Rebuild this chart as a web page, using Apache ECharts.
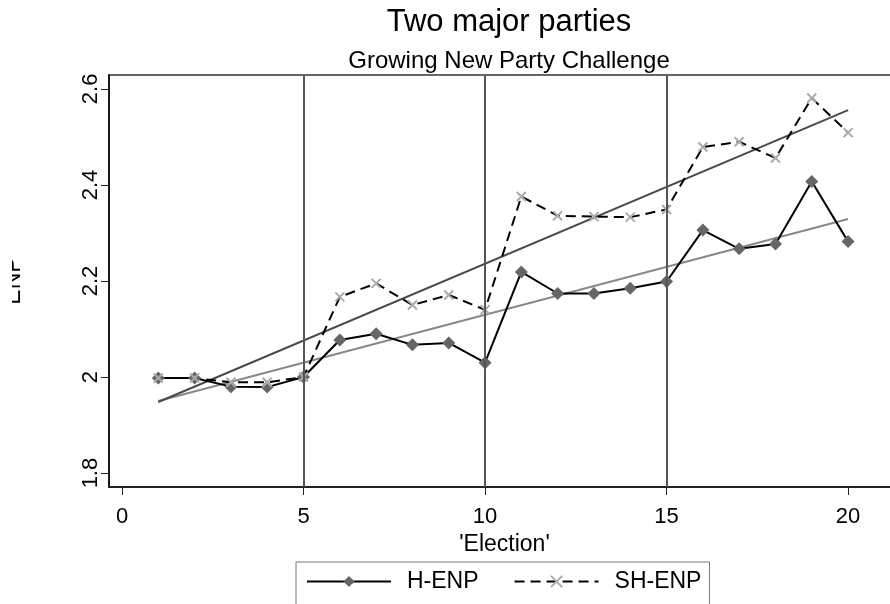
<!DOCTYPE html>
<html>
<head>
<meta charset="utf-8">
<script src="https://cdn.jsdelivr.net/npm/echarts@6/dist/echarts.min.js"></script>
<style>
html,body{margin:0;padding:0;background:#fff;}
#chart{width:890px;height:604px;}
</style>
</head>
<body>
<div id="chart"></div>
<script>
// ---- data ----
const elections = [1,2,3,4,5,6,7,8,9,10,11,12,13,14,15,16,17,18,19,20];
const hEnp  = [1.998,1.998,1.980,1.979,2.000,2.077,2.090,2.067,2.071,2.030,2.219,2.174,2.174,2.185,2.199,2.306,2.267,2.277,2.407,2.282];
const shEnp = [1.998,1.998,1.989,1.989,2.000,2.167,2.195,2.150,2.171,2.140,2.376,2.336,2.334,2.333,2.349,2.479,2.490,2.456,2.581,2.509];
// fitted trend lines (end points)
const hFitX  = [1, 20];
const hFitY  = [1.950, 2.329];
const shFitX = [1, 20];
const shFitY = [1.948, 2.556];
const refLines = [5, 10, 15];
const xTicks = [0, 5, 10, 15, 20];
const yTicks = [1.8, 2, 2.2, 2.4, 2.6];
const seriesNames = ['H-ENP', 'SH-ENP'];
const titleText = 'Two major parties';
const subtitleText = 'Growing New Party Challenge';
const xName = "'Election'";
const yName = 'ENP';

const FONT = "'Liberation Sans', Arial, Helvetica, sans-serif";
const pairs = (xs, ys) => xs.map((x, i) => [x, ys[i]]);
const crossPath = 'path://M0,0L10,10M10,0L0,10';

const chart = echarts.init(document.getElementById('chart'), null, {renderer: 'canvas'});
chart.setOption({
  animation: false,
  backgroundColor: '#fff',
  textStyle: {fontFamily: FONT},
  title: {
    text: titleText,
    subtext: subtitleText,
    left: 504,
    textAlign: 'center',
    top: 2,
    itemGap: 11,
    textStyle: {fontFamily: FONT, fontSize: 31, fontWeight: 'normal', color: '#000'},
    subtextStyle: {fontFamily: FONT, fontSize: 24, color: '#000'}
  },
  grid: {
    left: 109, right: -10, top: 75, bottom: 117,
    containLabel: false, outerBoundsMode: 'none',
    show: true, borderColor: '#666', borderWidth: 2, backgroundColor: 'transparent'
  },
  xAxis: {
    type: 'value',
    min: -0.358, max: 21.43,
    name: xName, nameLocation: 'middle', nameGap: 36,
    nameTextStyle: {fontFamily: FONT, fontSize: 23, color: '#000'},
    axisLine: {show: true, onZero: false, lineStyle: {color: '#222', width: 2}},
    axisTick: {show: true, customValues: xTicks, length: 8, lineStyle: {color: '#222', width: 1}},
    axisLabel: {customValues: xTicks, margin: 19, fontFamily: FONT, fontSize: 22, color: '#000'},
    splitLine: {show: false}
  },
  yAxis: {
    type: 'value',
    min: 1.771, max: 2.629,
    name: yName, nameLocation: 'middle', nameGap: 84,
    nameTextStyle: {fontFamily: FONT, fontSize: 23, color: '#000'},
    axisLine: {show: true, onZero: false, lineStyle: {color: '#000', width: 1.5}},
    axisTick: {show: true, customValues: yTicks, length: 8, lineStyle: {color: '#222', width: 1}},
    axisLabel: {customValues: yTicks, rotate: 90, margin: 7, fontFamily: FONT, fontSize: 22, color: '#000',
      formatter: v => String(Math.round(v * 10) / 10)},
    splitLine: {show: false}
  },
  legend: {
    data: seriesNames,
    left: 296, top: 562,
    orient: 'horizontal',
    itemWidth: 84, itemHeight: 14, itemGap: 35,
    padding: [8, 8, 40, 10],
    borderColor: '#777', borderWidth: 1,
    textStyle: {fontFamily: FONT, fontSize: 23, color: '#000', padding: [0, 0, 0, 11]}
  },
  series: [
    {
      name: seriesNames[0], type: 'line',
      data: pairs(elections, hEnp),
      symbol: 'diamond', symbolSize: 13,
      lineStyle: {color: '#000', width: 2},
      itemStyle: {color: '#666'},
      z: 3,
      markLine: {
        silent: true, symbol: ['none', 'none'], label: {show: false},
        lineStyle: {color: '#555', width: 2, type: 'solid'},
        data: refLines.map(v => ({xAxis: v}))
      }
    },
    {
      name: seriesNames[1], type: 'line',
      data: pairs(elections, shEnp),
      symbol: crossPath, symbolSize: 9,
      lineStyle: {color: '#000', width: 2, type: [10, 6]},
      itemStyle: {color: '#aaa', borderColor: '#aaa', borderWidth: 2},
      z: 3
    },
    {
      name: 'H-fit', type: 'line', data: pairs(hFitX, hFitY), symbol: 'none',
      lineStyle: {color: '#888', width: 2}, z: 2
    },
    {
      name: 'SH-fit', type: 'line', data: pairs(shFitX, shFitY), symbol: 'none',
      lineStyle: {color: '#4a4a4a', width: 2}, z: 2
    }
  ],
  graphic: [
    {type: 'rect', left: 0, top: 230, shape: {width: 12, height: 110}, style: {fill: '#fff'}, z: 100}
  ]
});
</script>
</body>
</html>
